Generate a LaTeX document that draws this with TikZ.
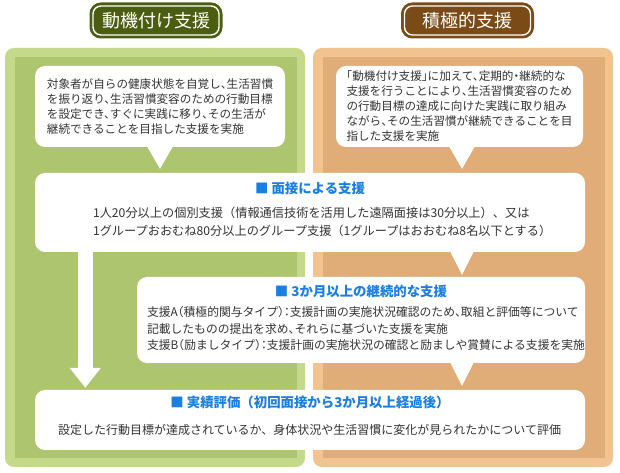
\documentclass[tikz,border=0pt]{standalone}
\usepackage{fontspec}
\usepackage{tikz}
\usetikzlibrary{positioning,calc,arrows.meta}
\newfontfamily\jp{Noto Sans CJK JP}
\newfontfamily\jph{Noto Sans CJK JP}[RawFeature=+halt]
\definecolor{mgreenlt}{HTML}{C5D98B}
\definecolor{mgreen}{HTML}{AEC570}
\definecolor{mgreendk}{HTML}{4B5D10}
\definecolor{sorangelt}{HTML}{F0C38F}
\definecolor{sorange}{HTML}{E0AC78}
\definecolor{sbrown}{HTML}{7A4A17}
\definecolor{headblue}{HTML}{1C7FE0}
\definecolor{bodygray}{HTML}{333333}

\begin{document}
\begin{tikzpicture}[x=1pt,y=1pt,
  panel/.style={rounded corners=9pt,minimum width=300pt,minimum height=419pt,inner sep=0pt},
  title/.style={rounded corners=8pt,draw=white,line width=1.4pt,minimum width=126pt,minimum height=29pt,
              inner sep=0pt,text=white,font=\jp\fontsize{18}{20}\selectfont},
  bubble/.style={fill=white,rounded corners=10pt,inner sep=0pt,align=left,text=bodygray,
              font=\jph\fontsize{11.6}{15}\selectfont},
  card/.style={fill=white,rounded corners=10pt,inner sep=0pt},
  head/.style={text=headblue,inner sep=0pt,font=\jp\bfseries\fontsize{13.4}{15}\selectfont},
  body/.style={align=left,text=bodygray,inner sep=0pt},
  tail/.style={fill=white},
  bigarrow/.style={draw=white,line width=15pt,-{Triangle[width=30pt,length=20pt]}}
]
  \useasboundingbox (0,0) rectangle (620,473);

  % panels
  \node[panel,fill=mgreenlt] (panelL) at (155,215.5) {};
  \node[panel,fill=sorangelt] (panelR) at (463,215.5) {};
  \fill[mgreen] ($(panelL.south west)+(10,9)$) rectangle ($(panelL.north east)+(-8,-9)$);
  \fill[sorange] ($(panelR.south west)+(10,9)$) rectangle ($(panelR.north east)+(-8,-9)$);

  \node[title,fill=mgreendk,preaction={draw=mgreendk,line width=7pt}] (titleL) at (156,452.5) {動機付け支援};
  \node[title,fill=sbrown,preaction={draw=sbrown,line width=7pt}] (titleR) at (467.5,452.5) {積極的支援};

  % speech bubbles
  \node[bubble,minimum width=250pt,minimum height=81pt] (bubL) at (160,366.5)
    {対象者が自らの健康状態を自覚し、生活習慣\\を振り返り、生活習慣変容のための行動目標\\を設定でき、すぐに実践に移り、その生活が\\継続できることを目指した支援を実施};
  \node[bubble,minimum width=247pt,minimum height=81pt] (bubR) at (459.5,366.5)
    {「動機付け支援」に加えて、定期的・継続的な\\支援を行うことにより、生活習慣変容のため\\の行動目標の達成に向けた実践に取り組み\\ながら、その生活習慣が継続できることを目\\指した支援を実施};

  % support steps
  \node[card,minimum width=550pt,minimum height=79pt] (face) at (310,260.5) {};
  \node[head] (faceT) at ([yshift=-16pt]face.north) {■ 面接による支援};
  \node[body,anchor=west,font=\jp\fontsize{12.2}{18}\selectfont] (faceB) at ([xshift=58pt,yshift=-9pt]face.west)
    {1人20分以上の個別支援（情報通信技術を活用した遠隔面接は30分以上）、又は\\1グループおおむね80分以上のグループ支援（1グループはおおむね8名以下とする）};

  \node[card,minimum width=448pt,minimum height=86pt] (cont) at (361,153) {};
  \node[head] (contT) at ([yshift=-15pt]cont.north) {■ 3か月以上の継続的な支援};
  \node[body,anchor=west,font=\jph\fontsize{11.8}{16.5}\selectfont] (contB) at ([xshift=10pt,yshift=-9pt]cont.west)
    {支援A（積極的関与タイプ）：支援計画の実施状況確認のため、取組と評価等について\\記載したものの提出を求め、それらに基づいた支援を実施\\支援B（励ましタイプ）：支援計画の実施状況の確認と励ましや賞賛による支援を実施};

  \node[card,minimum width=550pt,minimum height=60pt] (eval) at (310,53) {};
  \node[head] (evalT) at ([yshift=-13pt]eval.north) {■ 実績評価（初回面接から3か月以上経過後）};
  \node[body,anchor=west,font=\jp\fontsize{12}{14}\selectfont] (evalB) at ([xshift=23pt,yshift=-10pt]eval.west)
    {設定した行動目標が達成されているか、身体状況や生活習慣に変化が見られたかについて評価};

  % tails and arrow
  \coordinate (tailx) at (462,0);
  \fill[tail] ($(bubL.south)+(-13,1)$) -- ($(face.north -| bubL.south)+(0,4)$) -- ($(bubL.south)+(13,1)$) -- cycle;
  \fill[tail] ($(bubR.south -| tailx)+(-13,1)$) -- ($(face.north -| tailx)+(0,4)$) -- ($(bubR.south -| tailx)+(13,1)$) -- cycle;
  \fill[tail] ($(face.south -| tailx)+(-12,1)$) -- ($(cont.north -| tailx)+(0,2)$) -- ($(face.south -| tailx)+(12,1)$) -- cycle;
  \fill[tail] ($(cont.south -| tailx)+(-12,1)$) -- ($(eval.north -| tailx)+(0,4)$) -- ($(cont.south -| tailx)+(12,1)$) -- cycle;
  \draw[bigarrow] ([xshift=50.5pt,yshift=1pt]face.south west) -- ([xshift=50.5pt,yshift=2pt]eval.north west);
\end{tikzpicture}
\end{document}
